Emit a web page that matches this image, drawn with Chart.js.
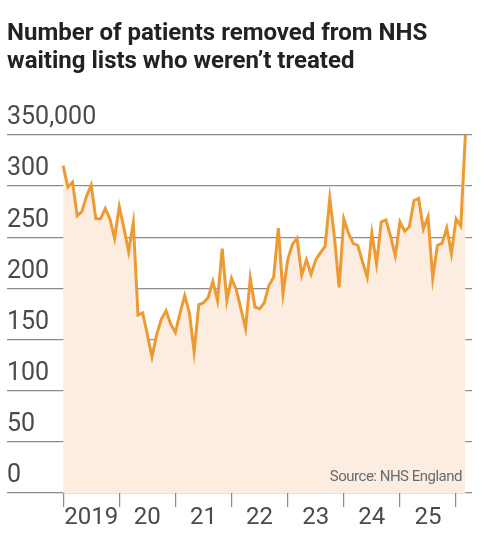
<!DOCTYPE html>
<html>
<head>
<meta charset="utf-8">
<script src="https://cdn.jsdelivr.net/npm/chart.js@4.4.1/dist/chart.umd.min.js"></script>
<style>
    html, body { margin: 0; padding: 0; background: #fff; }
    #wrap { position: relative; width: 484px; height: 533px; }
    #title {
        position: absolute; left: 7px; top: 19px;
        font: 700 24px Roboto, sans-serif;
        letter-spacing: 0;
        line-height: 27.6px;
        color: #222;
    }
    #chart-box { position: absolute; left: 0; top: 0; width: 484px; height: 533px; }
</style>
</head>
<body>
<div id="wrap">
    <div id="chart-box"><canvas id="main-chart"></canvas></div>
    <div id="title">Number of patients removed from NHS<br>waiting lists who weren’t treated</div>
</div>
<script>
// Data: monthly patients removed without treatment (thousands), Jan 2019 onwards
const removed = [
    320, 299, 304, 271, 275, 290, 301, 268, 268, 278, 268, 249,
    280, 259, 236, 264, 174, 176, 155, 133, 155, 170, 178, 165,
    157, 176, 193, 176, 138, 184, 186, 191, 207, 188, 239, 188,
    210, 199, 180, 161, 210, 182, 180, 186, 203, 211, 259, 195,
    228, 243, 249, 213, 228, 214, 228, 235, 241, 288, 250, 201,
    268, 254, 244, 242, 226, 211, 254, 224, 265, 267, 251, 232,
    265, 256, 260, 286, 288, 258, 270, 210, 242, 244, 259, 234,
    268, 261, 352
];
const yearLabels = ['2019', '20', '21', '22', '23', '24', '25', ''];
const yTicks = [0, 50, 100, 150, 200, 250, 300, 350];
const sourceText = 'Source: NHS England';

const lineColor = '#ec9b33';
const fillColor = '#fdede1';
const gridColor = '#8c8c8c';
const labelColor = '#4a4a4a';

// Source note drawn inside the plot, bottom right
const sourcePlugin = {
    id: 'sourceNote',
    afterDraw(chart) {
        const ctx = chart.ctx;
        ctx.save();
        ctx.font = '15px Roboto, sans-serif';
        if ('letterSpacing' in ctx) ctx.letterSpacing = '-0.5px';
        ctx.fillStyle = '#6a6a6a';
        ctx.textAlign = 'right';
        ctx.textBaseline = 'middle';
        ctx.fillText(sourceText, chart.chartArea.right - 10, 477);
        ctx.restore();
    }
};

const chartCanvas = document.getElementById('main-chart');

new Chart(chartCanvas, {
    type: 'line',
    data: {
        datasets: [{
            data: removed.map((v, i) => ({ x: i, y: v })),
            borderColor: lineColor,
            backgroundColor: fillColor,
            borderWidth: 3,
            pointRadius: 0,
            tension: 0,
            fill: 'origin'
        }]
    },
    options: {
        responsive: true,
        maintainAspectRatio: false,
        animation: false,
        layout: { padding: { top: 135, left: 7, right: 12, bottom: 0 } },
        plugins: {
            legend: { display: false },
            tooltip: { enabled: false }
        },
        scales: {
            x: {
                type: 'linear',
                min: -12,
                max: 87.4,
                afterFit: scale => { scale.height = 40; },
                afterBuildTicks: scale => {
                    scale.ticks = yearLabels.map((_, i) => ({ value: i * 12 }));
                },
                border: { display: false },
                grid: {
                    drawOnChartArea: false,
                    drawTicks: true,
                    tickLength: 14,
                    color: gridColor,
                    lineWidth: 1.2
                },
                ticks: {
                    autoSkip: false,
                    maxRotation: 0,
                    padding: -3,
                    labelOffset: 28,
                    color: labelColor,
                    font: { family: 'Roboto', size: 24 },
                    callback: (value) => yearLabels[Math.round(value / 12)]
                }
            },
            y: {
                min: 0,
                max: 350,
                afterFit: scale => { scale.width = 0; },
                afterBuildTicks: scale => {
                    scale.ticks = yTicks.map(v => ({ value: v }));
                },
                border: { display: false },
                grid: {
                    drawTicks: false,
                    color: gridColor,
                    lineWidth: 1.3
                },
                ticks: {
                    mirror: true,
                    padding: 0,
                    labelOffset: -17,
                    color: labelColor,
                    font: { family: 'Roboto', size: 25 },
                    callback: (value) => value === 350 ? '350,000' : String(value)
                }
            }
        }
    },
    plugins: [sourcePlugin]
});
</script>
</body>
</html>
